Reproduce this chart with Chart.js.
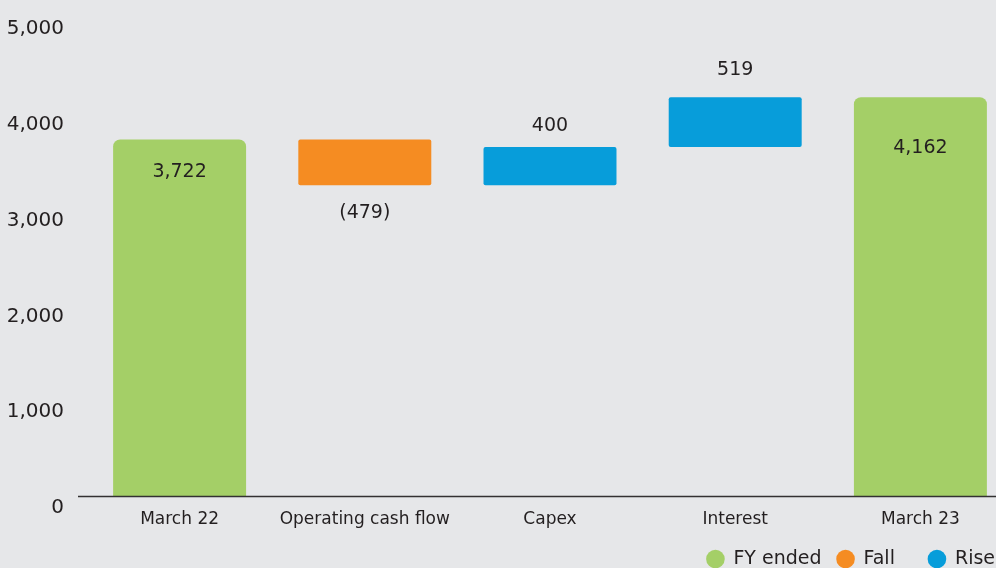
<!DOCTYPE html>
<html>
<head>
<meta charset="utf-8">
<script src="https://cdn.jsdelivr.net/npm/chart.js@4"></script>
<style>
  html, body { margin: 0; padding: 0; background: #e6e7e9; overflow: hidden; }
  #wrap { width: 996px; height: 568px; overflow: hidden; }
  canvas { display: block; }
</style>
</head>
<body>
<div id="wrap"><canvas id="wf" width="1013" height="568"></canvas></div>
<script>
// waterfall: net debt bridge
const categories = ['March 22', 'Operating cash flow', 'Capex', 'Interest', 'March 23'];
const amounts = [3722, -479, 400, 519, 4162];
const kinds = ['total', 'fall', 'rise', 'rise', 'total'];
const valueLabels = ['3,722', '(479)', '400', '519', '4,162'];
const yTicks = [0, 1000, 2000, 3000, 4000, 5000];
const seriesKeys = ['total', 'fall', 'rise'];
const seriesNames = ['FY ended', 'Fall', 'Rise'];
const seriesColors = ['#a4cf67', '#f58c22', '#079dda'];

// label placement per bar (style only)
const labelPlace = ['inside', 'below', 'above', 'above', 'inside'];
const labelGap = [33, 28, 21, 27, 51];
// space after each legend text before the next dot's centre
const legendGapAfter = [24, 42, 0];

const INK = '#231f20';
const FONT = '"DejaVu Sans", sans-serif';

// build floating ranges from running total
const ranges = { total: [], fall: [], rise: [] };
let run = 0;
amounts.forEach((v, i) => {
  const k = kinds[i];
  let r;
  if (k === 'total') { r = [0, v]; run = v; }
  else { const next = run + v; r = [Math.min(run, next), Math.max(run, next)]; run = next; }
  seriesKeys.forEach(key => ranges[key].push(key === k ? r : null));
});

const valueLabelPlugin = {
  id: 'valueLabels',
  afterDatasetsDraw(chart) {
    const ctx = chart.ctx;
    ctx.save();
    ctx.fillStyle = INK;
    ctx.font = '19px ' + FONT;
    ctx.textAlign = 'center';
    ctx.textBaseline = 'middle';
    chart.data.datasets.forEach((ds, di) => {
      const meta = chart.getDatasetMeta(di);
      meta.data.forEach((bar, i) => {
        if (!ds.data[i]) return;
        const top = Math.min(bar.y, bar.base), bottom = Math.max(bar.y, bar.base);
        let y;
        if (labelPlace[i] === 'inside') y = top + labelGap[i];
        else if (labelPlace[i] === 'below') y = bottom + labelGap[i];
        else y = top - labelGap[i];
        ctx.fillText(valueLabels[i], bar.x, y);
      });
    });
    ctx.restore();
  }
};

// baseline from just left of the plot, plus a right-anchored dot legend
const decorPlugin = {
  id: 'decor',
  afterDraw(chart) {
    const ctx = chart.ctx;
    const y0 = Math.round(chart.scales.y.getPixelForValue(0)) + 0.5;
    ctx.save();
    ctx.strokeStyle = '#333132';
    ctx.lineWidth = 1.5;
    ctx.beginPath();
    ctx.moveTo(78, y0);
    ctx.lineTo(chart.width, y0);
    ctx.stroke();

    ctx.font = '19px ' + FONT;
    ctx.textBaseline = 'middle';
    ctx.textAlign = 'left';
    const r = 9.3, textGap = 18, ly = 559;
    let x = 995;
    for (let i = seriesNames.length - 1; i >= 0; i--) {
      x -= legendGapAfter[i];
      const w = ctx.measureText(seriesNames[i]).width;
      const tx = x - w;
      ctx.fillStyle = INK;
      ctx.fillText(seriesNames[i], tx, ly);
      ctx.fillStyle = seriesColors[i];
      ctx.beginPath();
      ctx.arc(tx - textGap, ly, r, 0, Math.PI * 2);
      ctx.fill();
      x = tx - textGap;
    }
    ctx.restore();
  }
};

const barCommon = {
  categoryPercentage: 1,
  barPercentage: 0.718,
  borderSkipped: false,
  borderWidth: 0
};

new Chart(document.getElementById('wf'), {
  type: 'bar',
  data: {
    labels: categories,
    datasets: seriesKeys.map((k, i) => Object.assign({
      label: seriesNames[i],
      data: ranges[k],
      backgroundColor: seriesColors[i],
      borderRadius: k === 'total' ? { topLeft: 7, topRight: 7, bottomLeft: 0, bottomRight: 0 } : 2
    }, barCommon))
  },
  options: {
    responsive: false,
    animation: false,
    layout: { padding: { top: 17, right: 0, bottom: 32, left: 0 } },
    scales: {
      x: {
        stacked: true,
        afterFit(scale) { scale.height = 40; },
        grid: { display: false },
        border: { display: false },
        ticks: { color: INK, font: { family: FONT, size: 17 }, padding: 5, maxRotation: 0 }
      },
      y: {
        min: 0,
        max: 5000,
        afterFit(scale) { scale.width = 87; scale.paddingTop = 0; scale.paddingBottom = 0; },
        afterBuildTicks(scale) { scale.ticks = yTicks.map(v => ({ value: v })); },
        grid: { display: false },
        border: { display: false },
        ticks: {
          color: INK,
          font: { family: FONT, size: 20 },
          padding: 15,
          labelOffset: 12,
          callback: v => v.toLocaleString('en-US')
        }
      }
    },
    plugins: {
      tooltip: { enabled: false },
      legend: { display: false }
    }
  },
  plugins: [valueLabelPlugin, decorPlugin]
});
</script>
</body>
</html>
